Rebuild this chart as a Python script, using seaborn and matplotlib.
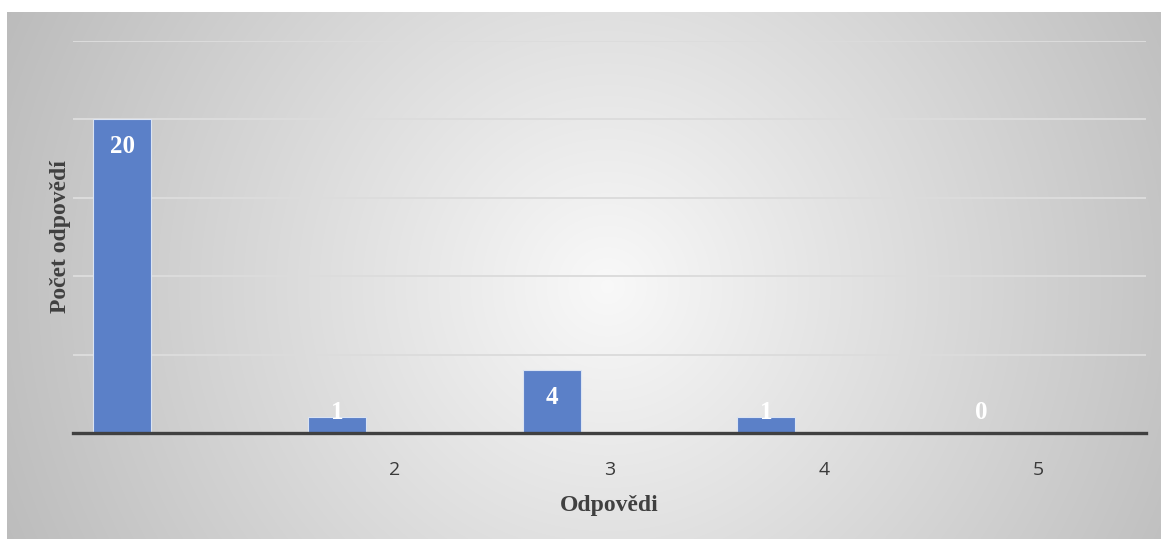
import numpy as np
import pandas as pd
import seaborn as sns
import matplotlib.pyplot as plt

# ==========================================
# DATA
# ==========================================
kategorie = ['1', '2', '3', '4', '5']
popisky_osy = ['', '2', '3', '4', '5']
pocty = [20, 1, 4, 1, 0]
rady = ['Řada 1', 'Řada 2', 'Řada 3']

# jen prvni rada ma hodnoty, dalsi dve jsou prazdne (drzi misto jako v Excelu)
df = pd.DataFrame({
    'odpoved': kategorie * 3,
    'pocet': pocty + [np.nan] * 10,
    'rada': [r for r in rady for _ in kategorie],
})

sns.set_style('white')
plt.rcParams['font.family'] = ['Liberation Serif', 'DejaVu Serif']

W, H = 1161, 539
fig = plt.figure(figsize=(W / 100, H / 100), dpi=100)
fig.patch.set_facecolor('white')

# radialni prechod pozadi grafu
x0, y0 = 7, 12
bg = fig.add_axes([x0 / W, 0, (W - x0) / W, (H - y0) / H], zorder=-1)
bw, bh = W - x0, H - y0
xx, yy = np.meshgrid(np.arange(bw), np.arange(bh))
r = np.sqrt((xx - bw * 0.52) ** 2 + (yy - bh * 0.52) ** 2) / np.hypot(bw / 2, bh / 2)
c = np.clip(0.975 - 0.23 * r, 0, 1)
bg.imshow(np.dstack([c, c, c]), aspect='auto', interpolation='bilinear')
bg.set_axis_off()

ax = fig.add_axes([73 / W, 1 - 433 / H, (1146 - 73) / W, (433 - 41) / H])
ax.set_facecolor('none')

sns.barplot(data=df, x='odpoved', y='pocet', hue='rada', hue_order=rady,
            order=kategorie, palette=['#5b80c8', '#ed7d31', '#a5a5a5'],
            saturation=1, width=0.81, gap=0, edgecolor='#dbe4f3', linewidth=0.8,
            legend=False, ax=ax, zorder=3)

ax.set_ylim(0, 25)
ax.set_xlim(-0.5, len(kategorie) - 0.5)
ax.set_yticks([0, 5, 10, 15, 20, 25])
ax.set_yticklabels([])
ax.grid(axis='y', color='#dcdcdc', linewidth=1.4, zorder=0)
ax.tick_params(axis='both', length=0)
ax.set_xticks(range(len(kategorie)))
ax.set_xticklabels(popisky_osy, fontsize=14, color='#3a3a3a', family=['Open Sans', 'DejaVu Sans'])
ax.tick_params(axis='x', pad=20)

for s in ['top', 'right', 'left']:
    ax.spines[s].set_visible(False)
ax.spines['bottom'].set_color('#404040')
ax.spines['bottom'].set_linewidth(2.4)
ax.spines['bottom'].set_zorder(4)

# popisky hodnot (prvni rada)
for patch, v in zip(ax.containers[0], pocty):
    y = max(v - 1.75, 1.3)
    ax.text(patch.get_x() + patch.get_width() / 2, y, str(v), ha='center', va='center',
            color='white', fontsize=18, fontweight='bold', zorder=5)

ax.set_xlabel('Odpovědi', fontsize=17, fontweight='bold', color='#404040', labelpad=12)
ax.set_ylabel('Počet odpovědí', fontsize=17, fontweight='bold', color='#404040', labelpad=-2)

fig.savefig('out.png', dpi=100)
